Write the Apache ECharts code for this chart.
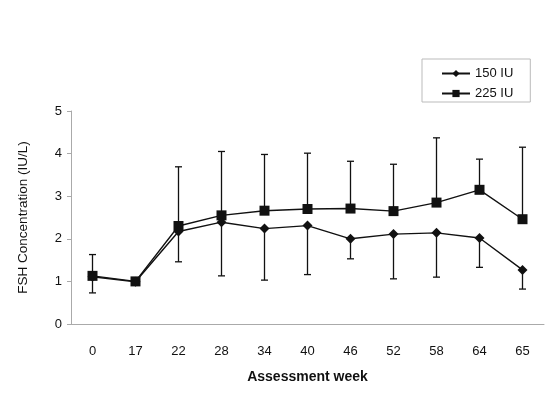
<!DOCTYPE html>
<html>
<head>
<meta charset="utf-8">
<script src="https://cdn.jsdelivr.net/npm/echarts@6/dist/echarts.min.js"></script>
<style>html,body{margin:0;padding:0;background:#fff;}#c{width:549px;height:393px;}</style>
</head>
<body>
<div id="c"></div>
<script>
const weeks = ['0','17','22','28','34','40','46','52','58','64','65'];
const iu150 = [1.11, 0.99, 2.17, 2.39, 2.24, 2.31, 2.00, 2.11, 2.14, 2.02, 1.27];
const iu225 = [1.13, 1.00, 2.30, 2.55, 2.66, 2.70, 2.71, 2.65, 2.85, 3.15, 2.46];
const upper225 = [1.63, null, 3.69, 4.05, 3.98, 4.01, 3.82, 3.75, 4.37, 3.87, 4.15];
const lower150 = [0.73, null, 1.46, 1.13, 1.03, 1.16, 1.53, 1.06, 1.10, 1.33, 0.82];
const yTicks = [0, 1, 2, 3, 4, 5];

const errData = [];
weeks.forEach((w, i) => {
  if (upper225[i] != null) errData.push([i, iu225[i], upper225[i]]);
  if (lower150[i] != null) errData.push([i, iu150[i], lower150[i]]);
});

const chart = echarts.init(document.getElementById('c'));
chart.setOption({
  animation: false,
  backgroundColor: '#fff',
  textStyle: { fontFamily: 'Liberation Sans, Arial, sans-serif' },
  grid: { left: 71, right: 5, top: 111, bottom: 69 },
  legend: {
    orient: 'vertical',
    left: 422, top: 59,
    padding: [8, 17, 2, 19],
    itemGap: 7,
    itemWidth: 28, itemHeight: 9,
    borderColor: '#bbb', borderWidth: 1,
    textStyle: { fontSize: 13, color: '#111', fontFamily: 'Liberation Sans, Arial, sans-serif' },
    data: ['150 IU', '225 IU']
  },
  xAxis: {
    type: 'category',
    data: weeks,
    boundaryGap: true,
    name: 'Assessment week',
    nameLocation: 'middle',
    nameGap: 46,
    nameTextStyle: { fontWeight: 'bold', fontSize: 14, color: '#111' },
    axisLine: { lineStyle: { color: '#aaa', width: 1 } },
    axisTick: { show: false },
    axisLabel: { fontSize: 13, color: '#111', margin: 21 }
  },
  yAxis: {
    type: 'value',
    min: yTicks[0], max: yTicks[yTicks.length - 1], interval: 1,
    name: 'FSH Concentration (IU/L)',
    nameLocation: 'middle',
    nameGap: 41,
    nameRotate: 90,
    nameTextStyle: { fontSize: 13.5, color: '#111' },
    axisLine: { show: true, lineStyle: { color: '#aaa', width: 1 } },
    axisTick: { show: true, length: 4, lineStyle: { color: '#aaa' } },
    axisLabel: { fontSize: 13, color: '#111', margin: 9 },
    splitLine: { show: false }
  },
  series: [
    {
      type: 'custom',
      name: 'err',
      data: errData,
      z: 1,
      renderItem: function (params, api) {
        const x = api.value(0);
        const a = api.coord([x, api.value(1)]);
        const b = api.coord([x, api.value(2)]);
        const hw = 3.5;
        return {
          type: 'group',
          children: [
            { type: 'line', shape: { x1: a[0], y1: a[1], x2: b[0], y2: b[1] }, style: { stroke: '#111', lineWidth: 1.3 } },
            { type: 'line', shape: { x1: b[0] - hw, y1: b[1], x2: b[0] + hw, y2: b[1] }, style: { stroke: '#111', lineWidth: 1.3 } }
          ]
        };
      }
    },
    {
      type: 'line',
      name: '150 IU',
      data: iu150,
      symbol: 'diamond',
      symbolSize: 10,
      lineStyle: { color: '#111', width: 1.4 },
      itemStyle: { color: '#111' },
      z: 3
    },
    {
      type: 'line',
      name: '225 IU',
      data: iu225,
      symbol: 'rect',
      symbolSize: 10,
      lineStyle: { color: '#111', width: 1.4 },
      itemStyle: { color: '#111' },
      z: 2
    }
  ]
});
</script>
</body>
</html>
